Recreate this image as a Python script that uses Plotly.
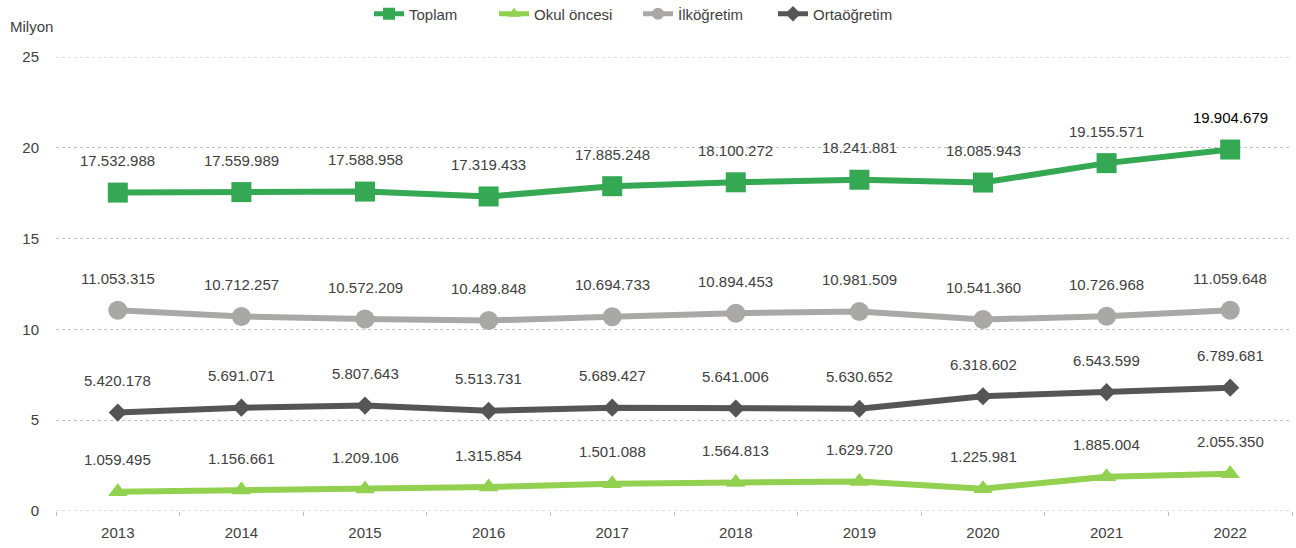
import plotly.graph_objects as go

years = ["2013", "2014", "2015", "2016", "2017", "2018", "2019", "2020", "2021", "2022"]
toplam = [17532988, 17559989, 17588958, 17319433, 17885248, 18100272, 18241881, 18085943, 19155571, 19904679]
okul_oncesi = [1059495, 1156661, 1209106, 1315854, 1501088, 1564813, 1629720, 1225981, 1885004, 2055350]
ilkogretim = [11053315, 10712257, 10572209, 10489848, 10694733, 10894453, 10981509, 10541360, 10726968, 11059648]
ortaogretim = [5420178, 5691071, 5807643, 5513731, 5689427, 5641006, 5630652, 6318602, 6543599, 6789681]
y_ticks = [0, 5, 10, 15, 20, 25]

series = [
    ("Toplam", toplam, "#35A853", "square", 20, "legend", 370),
    ("Okul öncesi", okul_oncesi, "#92D050", "triangle-up", 17, "legend2", 495),
    ("İlköğretim", ilkogretim, "#AAA7A7", "circle", 19, "legend3", 639),
    ("Ortaöğretim", ortaogretim, "#555555", "diamond", 14, "legend4", 774),
]

FONT = "Liberation Sans, Arial, sans-serif"
L, R, T, B = 56, 4, 57, 37
W, H = 1296, 548
PW, PH = W - L - R, H - T - B

fig = go.Figure()
annotations = []
legends = {}
for name, vals, color, sym, msize, leg, lx in series:
    yv = [v / 1e6 for v in vals]
    fig.add_trace(go.Scatter(
        x=years, y=yv, name=name, mode="lines+markers",
        line=dict(color=color, width=6),
        marker=dict(symbol=sym, size=msize, color=color),
        legend=leg, hoverinfo="skip",
    ))
    for i, v in enumerate(vals):
        txt = f"{v:,}".replace(",", ".")
        col = "#000000" if (name == "Toplam" and i == len(years) - 1) else "#404040"
        annotations.append(dict(
            x=i, y=v / 1e6, xref="x", yref="y", text=txt, showarrow=False,
            yshift=32, font=dict(size=15, color=col, family=FONT),
        ))
    legends[leg] = dict(
        x=(lx - 1) / W, xref="container", y=1 - 14 / H, yref="container",
        xanchor="left", yanchor="middle", orientation="h",
        bgcolor="rgba(0,0,0,0)", font=dict(size=15, color="#404040", family=FONT),
        itemsizing="constant",
    )

annotations.append(dict(
    x=(8 - L) / PW, y=(H - B - 27) / PH, xref="paper", yref="paper", text="Milyon",
    showarrow=False, xanchor="left", yanchor="middle",
    font=dict(size=15, color="#404040", family=FONT),
))

shapes = [
    dict(type="line", xref="paper", yref="y", x0=0, x1=1, y0=yt, y1=yt,
         line=dict(color="#BFBFBF", width=1, dash="dot"), layer="below")
    for yt in (y_ticks[0], y_ticks[-1])
]

fig.update_layout(
    width=W, height=H,
    margin=dict(l=L, r=R, t=T, b=B),
    paper_bgcolor="white", plot_bgcolor="white",
    font=dict(family=FONT, size=15, color="#404040"),
    annotations=annotations,
    shapes=shapes,
    showlegend=True,
    **legends,
)
fig.update_xaxes(
    type="category", range=[-0.5, 9.5], tickson="boundaries",
    ticks="outside", ticklen=4, tickcolor="#BFBFBF", tickwidth=1,
    showgrid=False, showline=False, zeroline=False,
    tickfont=dict(size=15, color="#404040", family=FONT),
    ticklabelstandoff=11,
)
fig.update_yaxes(
    range=[0, 25], tickvals=y_ticks, showgrid=True, gridcolor="#BFBFBF",
    griddash="dot", gridwidth=1, zeroline=False, showline=False, ticks="",
    tickfont=dict(size=15, color="#404040", family=FONT),
    ticklabelstandoff=16,
)

fig.write_html("out.html", config={"displayModeBar": False},
               post_script="document.body.style.margin='0';")
